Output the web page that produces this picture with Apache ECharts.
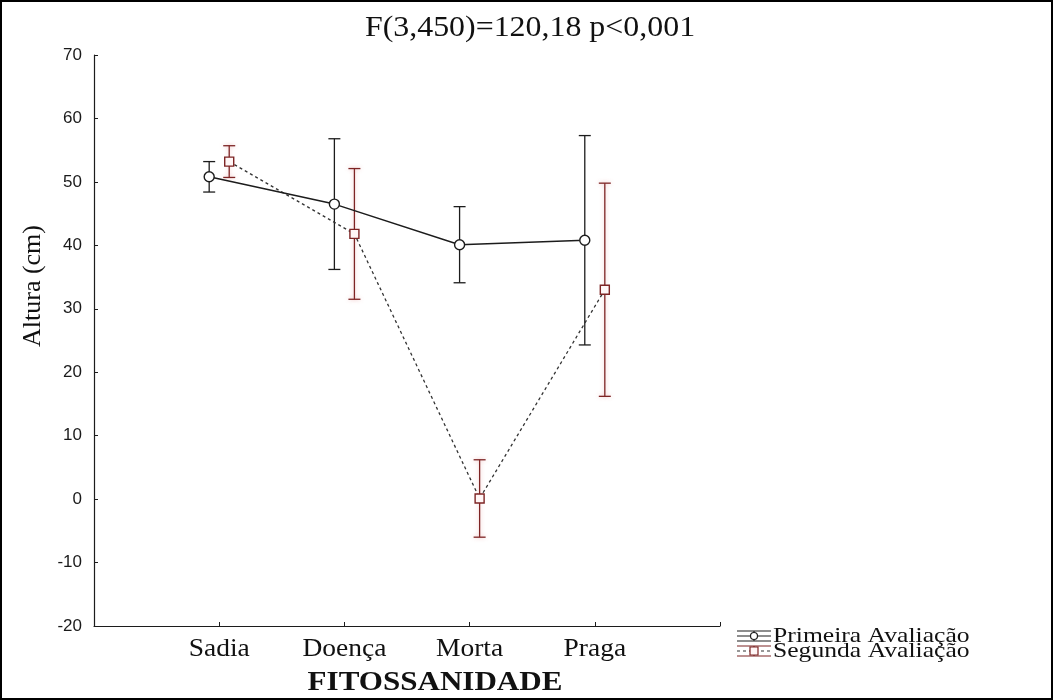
<!DOCTYPE html>
<html>
<head>
<meta charset="utf-8">
<script src="https://cdn.jsdelivr.net/npm/echarts@6/dist/echarts.min.js"></script>
<style>
  html, body { margin: 0; padding: 0; background: #fff; }
  #chart { width: 1053px; height: 700px; }
</style>
</head>
<body>
<div id="chart"></div>
<script>
// Plant height by phytosanitary status, two assessments (mean ± CI)
const categories = ['Sadia', 'Doença', 'Morta', 'Praga'];
const seriesNames = ['Primeira Avaliação', 'Segunda Avaliação'];
const primeiraMean = [50.8, 46.5, 40.1, 40.8];
const primeiraErr  = [2.4, 10.3, 6.0, 16.5];
const segundaMean  = [53.2, 41.8, 0.1, 33.0];
const segundaErr   = [2.5, 10.3, 6.1, 16.8];
const yMin = -20, yMax = 70, yStep = 10;
const chartTitle = 'F(3,450)=120,18 p<0,001';
const xTitle = 'FITOSSANIDADE';
const yTitle = 'Altura (cm)';

const SERIF = '"Liberation Serif", "Times New Roman", serif';
const SANS = '"Liberation Sans", Arial, sans-serif';
const WIDE = 1.1;            // horizontal stretch of the serif captions
const DODGE = 0.08;          // side-by-side shift of the two assessments
const INK = '#1c1c1c';
const RED = '#7d2424';

// category i sits at x = i + 1 on a 0..5 value axis
const pos = (i, shift) => i + 1 + shift;
const primeiraPts = primeiraMean.map((m, i) => [pos(i, -DODGE), m]);
const segundaPts  = segundaMean.map((m, i) => [pos(i, DODGE), m]);
const primeiraBars = primeiraMean.map((m, i) => [pos(i, -DODGE), m - primeiraErr[i], m + primeiraErr[i]]);
const segundaBars  = segundaMean.map((m, i) => [pos(i, DODGE), m - segundaErr[i], m + segundaErr[i]]);

function errorBars(color, glow) {
  return function (params, api) {
    const x = api.value(0);
    const top = api.coord([x, api.value(2)]);
    const bot = api.coord([x, api.value(1)]);
    const cap = 6;
    const style = { stroke: color, lineWidth: 1.3, shadowBlur: glow ? 4 : 0, shadowColor: glow || 'transparent' };
    return {
      type: 'group',
      children: [
        { type: 'line', shape: { x1: top[0], y1: top[1], x2: bot[0], y2: bot[1] }, style },
        { type: 'line', shape: { x1: top[0] - cap, y1: top[1], x2: top[0] + cap, y2: top[1] }, style },
        { type: 'line', shape: { x1: bot[0] - cap, y1: bot[1], x2: bot[0] + cap, y2: bot[1] }, style }
      ]
    };
  };
}

const chart = echarts.init(document.getElementById('chart'), null, { renderer: 'canvas' });

chart.setOption({
  backgroundColor: '#fff',
  animation: false,
  grid: { left: 94, right: 333, top: 55, bottom: 74, containLabel: false },
  xAxis: {
    type: 'value', min: 0, max: categories.length + 1, interval: 1,
    axisLine: { show: true, onZero: false, lineStyle: { color: INK, width: 1.2 } },
    axisTick: { show: true, inside: true, length: 4, lineStyle: { color: INK } },
    axisLabel: { show: false },
    splitLine: { show: false }
  },
  yAxis: {
    type: 'value', min: yMin, max: yMax, interval: yStep,
    axisLine: { show: true, onZero: false, lineStyle: { color: INK, width: 1.2 } },
    axisTick: { show: true, inside: true, length: 4, lineStyle: { color: INK } },
    axisLabel: { margin: 12, fontFamily: SANS, fontSize: 17, color: '#1a1a1a' },
    splitLine: { show: false }
  },
  series: [
    {
      name: seriesNames[1] + ' IC', type: 'custom', data: segundaBars,
      renderItem: errorBars(RED, 'rgba(220,110,110,0.45)'), z: 2
    },
    {
      name: seriesNames[0] + ' IC', type: 'custom', data: primeiraBars,
      renderItem: errorBars(INK, null), z: 2
    },
    {
      name: seriesNames[1], type: 'line', data: segundaPts, z: 3,
      symbol: 'rect', symbolSize: 9,
      itemStyle: { color: '#fff6f6', borderColor: RED, borderWidth: 1.4 },
      lineStyle: { color: '#333', width: 1.3, type: [3, 3] }
    },
    {
      name: seriesNames[0], type: 'line', data: primeiraPts, z: 4,
      symbol: 'circle', symbolSize: 10,
      itemStyle: { color: '#fff', borderColor: INK, borderWidth: 1.4 },
      lineStyle: { color: INK, width: 1.5 }
    }
  ]
});

// captions placed from the axes' own scales
const baseY = chart.convertToPixel({ yAxisIndex: 0 }, yMin);
const catLabels = categories.map((c, i) => ({
  type: 'text',
  x: chart.convertToPixel({ xAxisIndex: 0 }, i + 1),
  y: baseY + 23,
  scaleX: WIDE,
  style: { text: c, font: '25px ' + SERIF, fill: '#111', align: 'center', verticalAlign: 'middle' }
}));

function legendGlyph(cx, cy, color, capColor, dashed, marker) {
  const w = 17, h = 5;
  const capStyle = { stroke: capColor, lineWidth: 1.2 };
  const items = [
    { type: 'line', shape: { x1: cx - w, y1: cy - h, x2: cx + w, y2: cy - h }, style: capStyle },
    { type: 'line', shape: { x1: cx - w, y1: cy + h, x2: cx + w, y2: cy + h }, style: capStyle },
    { type: 'line', shape: { x1: cx, y1: cy - h, x2: cx, y2: cy + h }, style: capStyle },
    { type: 'line', shape: { x1: cx - w, y1: cy, x2: cx + w, y2: cy },
      style: { stroke: color, lineWidth: 1.2, lineDash: dashed ? [3, 3] : null } }
  ];
  if (marker === 'circle') {
    items.push({ type: 'circle', shape: { cx, cy, r: 3.5 }, style: { fill: '#fff', stroke: INK, lineWidth: 1.2 } });
  } else {
    items.push({ type: 'rect', shape: { x: cx - 4, y: cy - 4, width: 8, height: 8 }, style: { fill: '#fff6f6', stroke: RED, lineWidth: 1.2 } });
  }
  return items;
}

const legendX = 754, legendY = [636, 651];
const legendItems = [].concat(
  legendGlyph(legendX, legendY[0], INK, INK, false, 'circle'),
  legendGlyph(legendX, legendY[1], '#333', RED, true, 'rect'),
  seriesNames.map((n, i) => ({
    type: 'text', x: 773, y: legendY[i], scaleX: 1.22,
    style: { text: n, font: '21px ' + SERIF, fill: '#111', align: 'left', verticalAlign: 'middle' }
  }))
);

chart.setOption({
  graphic: [
    { type: 'rect', shape: { x: 1, y: 1, width: 1051, height: 698 }, style: { fill: 'none', stroke: '#000', lineWidth: 2 }, silent: true },
    { type: 'text', x: 530, y: 28, scaleX: WIDE,
      style: { text: chartTitle, font: '29px ' + SERIF, fill: '#111', align: 'center', verticalAlign: 'middle' } },
    { type: 'text', x: 435, y: 683, scaleX: 1.15,
      style: { text: xTitle, font: 'bold 27px ' + SERIF, fill: '#111', align: 'center', verticalAlign: 'middle' } },
    { type: 'text', x: 33, y: 286, rotation: Math.PI / 2, scaleX: 1.0,
      style: { text: yTitle, font: '26px ' + SERIF, fill: '#111', align: 'center', verticalAlign: 'middle' } }
  ].concat(catLabels, legendItems)
});
</script>
</body>
</html>
